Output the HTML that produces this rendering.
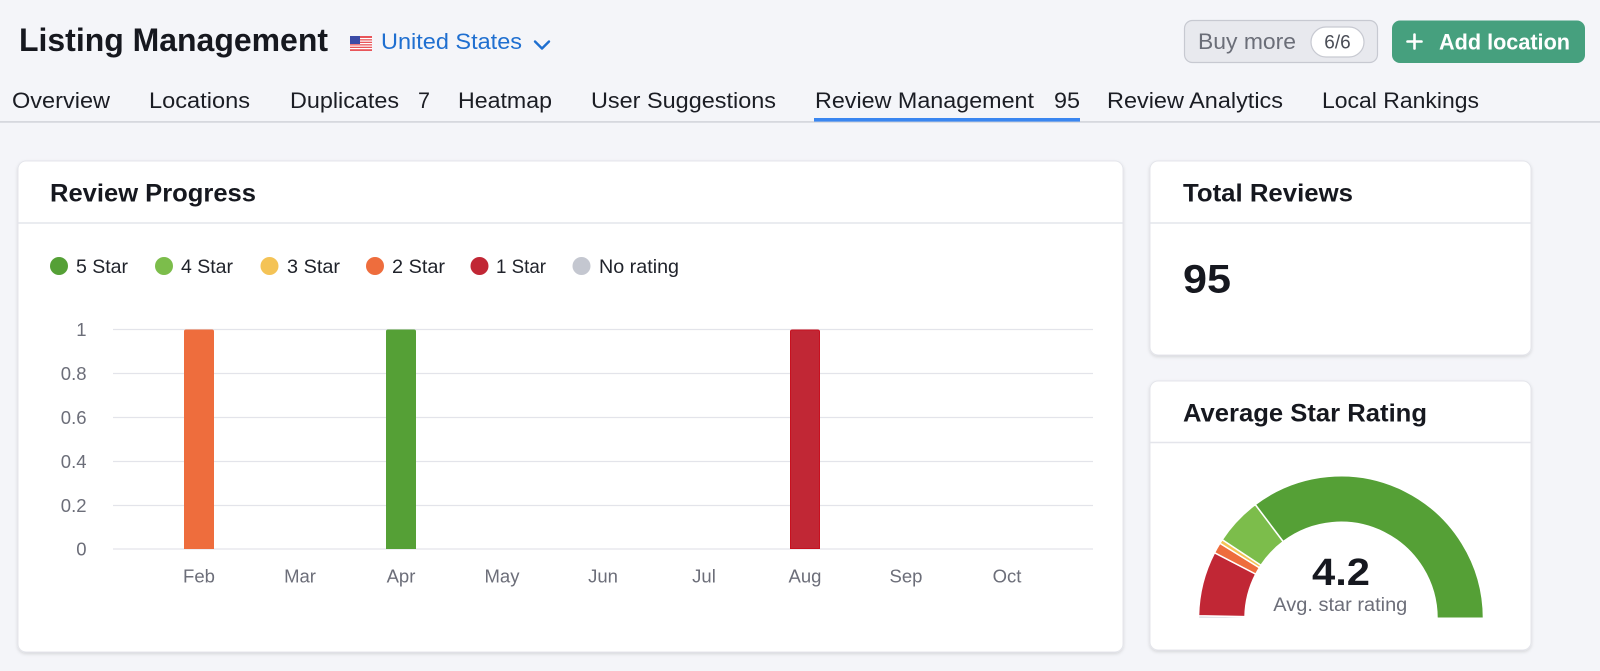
<!DOCTYPE html>
<html><head><meta charset="utf-8"><style>
html,body{margin:0;padding:0;background:#f4f5f9;}
svg{display:block;}
text{font-family:"Liberation Sans",Arial,sans-serif;}
</style></head><body>
<svg width="1600" height="671" viewBox="0 0 1600 671" xmlns="http://www.w3.org/2000/svg">
<defs>
<filter id="sh" x="-5%" y="-5%" width="110%" height="115%">
<feDropShadow dx="0" dy="1.5" stdDeviation="1.5" flood-color="#000" flood-opacity="0.13"/>
</filter>
</defs>
<rect x="0" y="0" width="1600" height="671" fill="#f4f5f9"/>

<!-- Header -->
<text x="19" y="51" font-size="32" font-weight="bold" fill="#16181f" textLength="309" lengthAdjust="spacingAndGlyphs">Listing Management</text>
<!-- flag -->
<g>
<rect x="350" y="36" width="22" height="15" fill="#e8555a"/>
<rect x="350" y="38" width="22" height="1.2" fill="#fff"/>
<rect x="350" y="40.5" width="22" height="1.2" fill="#fff"/>
<rect x="350" y="43" width="22" height="1.2" fill="#fff"/>
<rect x="350" y="45.5" width="22" height="1.2" fill="#fff"/>
<rect x="350" y="48" width="22" height="1.2" fill="#fff"/>
<rect x="350" y="36" width="10" height="8" fill="#3b4ba6"/>
</g>
<text x="381" y="49" font-size="22" fill="#1f6fd0" textLength="141" lengthAdjust="spacingAndGlyphs">United States</text>
<polyline points="535,41.5 542,48.5 549,41.5" fill="none" stroke="#1f6fd0" stroke-width="2.4" stroke-linecap="round" stroke-linejoin="round"/>

<!-- Buttons -->
<rect x="1184.5" y="20.5" width="193" height="42" rx="8" fill="#e8e9ee" stroke="#c7c9d1" stroke-width="1.2"/>
<text x="1198" y="49" font-size="22" fill="#6b6e78" textLength="98" lengthAdjust="spacingAndGlyphs">Buy more</text>
<rect x="1311" y="27" width="53" height="30" rx="15" fill="#fff" stroke="#c7c9d1" stroke-width="1.2"/>
<text x="1337.5" y="48.5" font-size="19" fill="#4a4d56" text-anchor="middle">6/6</text>
<rect x="1392" y="20.5" width="193" height="42.5" rx="8" fill="#46a07e"/>
<line x1="1414.5" y1="34.5" x2="1414.5" y2="48.5" stroke="#fff" stroke-width="2.6" stroke-linecap="round"/>
<line x1="1407.5" y1="41.5" x2="1421.5" y2="41.5" stroke="#fff" stroke-width="2.6" stroke-linecap="round"/>
<text x="1439" y="49.5" font-size="22" font-weight="bold" fill="#fff" textLength="131" lengthAdjust="spacingAndGlyphs">Add location</text>

<!-- Tabs -->
<g font-size="22" fill="#1b1d24">
<text x="12" y="108" textLength="98" lengthAdjust="spacingAndGlyphs">Overview</text>
<text x="149" y="108" textLength="101" lengthAdjust="spacingAndGlyphs">Locations</text>
<text x="290" y="108" textLength="109" lengthAdjust="spacingAndGlyphs">Duplicates</text>
<text x="418" y="108" textLength="12" lengthAdjust="spacingAndGlyphs">7</text>
<text x="458" y="108" textLength="94" lengthAdjust="spacingAndGlyphs">Heatmap</text>
<text x="591" y="108" textLength="185" lengthAdjust="spacingAndGlyphs">User Suggestions</text>
<text x="815" y="108" textLength="219" lengthAdjust="spacingAndGlyphs">Review Management</text>
<text x="1054" y="108" textLength="26" lengthAdjust="spacingAndGlyphs">95</text>
<text x="1107" y="108" textLength="176" lengthAdjust="spacingAndGlyphs">Review Analytics</text>
<text x="1322" y="108" textLength="157" lengthAdjust="spacingAndGlyphs">Local Rankings</text>
</g>
<rect x="0" y="121" width="1600" height="1.8" fill="#d6d8de"/>
<rect x="814" y="118" width="266" height="3.6" fill="#3a86f0"/>

<!-- Card 1: Review Progress -->
<rect x="18" y="161" width="1105" height="491" rx="8" fill="#fff" stroke="#e4e5eb" stroke-width="1" filter="url(#sh)"/>
<line x1="18.5" y1="223" x2="1122.5" y2="223" stroke="#e4e5eb" stroke-width="1.5"/>
<text x="50" y="201.5" font-size="25" font-weight="bold" fill="#16181f" textLength="206" lengthAdjust="spacingAndGlyphs">Review Progress</text>

<!-- Legend -->
<g font-size="19.5" fill="#20232b">
<circle cx="59" cy="266" r="9" fill="#55a036"/>
<text x="76" y="273" textLength="52" lengthAdjust="spacingAndGlyphs">5 Star</text>
<circle cx="164" cy="266" r="9" fill="#7cbd4b"/>
<text x="181" y="273" textLength="52" lengthAdjust="spacingAndGlyphs">4 Star</text>
<circle cx="269.5" cy="266" r="9" fill="#f4c356"/>
<text x="287" y="273" textLength="53" lengthAdjust="spacingAndGlyphs">3 Star</text>
<circle cx="375" cy="266" r="9" fill="#ee6d3d"/>
<text x="392" y="273" textLength="53" lengthAdjust="spacingAndGlyphs">2 Star</text>
<circle cx="479.5" cy="266" r="9" fill="#c12735"/>
<text x="496" y="273" textLength="50" lengthAdjust="spacingAndGlyphs">1 Star</text>
<circle cx="581.5" cy="266" r="9" fill="#c4c7d0"/>
<text x="599" y="273" textLength="80" lengthAdjust="spacingAndGlyphs">No rating</text>
</g>

<!-- Grid -->
<g stroke="#e3e4ea" stroke-width="1.2">
<line x1="113" y1="329.5" x2="1093" y2="329.5"/>
<line x1="113" y1="373.5" x2="1093" y2="373.5"/>
<line x1="113" y1="417.5" x2="1093" y2="417.5"/>
<line x1="113" y1="461.5" x2="1093" y2="461.5"/>
<line x1="113" y1="505.5" x2="1093" y2="505.5"/>
<line x1="113" y1="549" x2="1093" y2="549"/>
</g>
<g font-size="18.5" fill="#6c6e79" text-anchor="end">
<text x="86.5" y="336">1</text>
<text x="86.5" y="380">0.8</text>
<text x="86.5" y="424">0.6</text>
<text x="86.5" y="468">0.4</text>
<text x="86.5" y="512">0.2</text>
<text x="86.5" y="555.5">0</text>
</g>

<!-- Bars -->
<path d="M184 549 V331.5 Q184 329.5 186 329.5 H212 Q214 329.5 214 331.5 V549 Z" fill="#ee6d3d"/>
<path d="M386 549 V331.5 Q386 329.5 388 329.5 H414 Q416 329.5 416 331.5 V549 Z" fill="#55a036"/>
<path d="M790.5 548.5 V331.5 Q790.5 330 792.5 330 H817.5 Q819.5 330 819.5 331.5 V548.5 Z" fill="#c12735" stroke="#c8101f" stroke-width="1"/>

<!-- X labels -->
<g font-size="18.5" fill="#6c6e79" text-anchor="middle">
<text x="199" y="582.5">Feb</text>
<text x="300" y="582.5">Mar</text>
<text x="401" y="582.5">Apr</text>
<text x="502" y="582.5">May</text>
<text x="603" y="582.5">Jun</text>
<text x="704" y="582.5">Jul</text>
<text x="805" y="582.5">Aug</text>
<text x="906" y="582.5">Sep</text>
<text x="1007" y="582.5">Oct</text>
</g>

<!-- Card 2: Total Reviews -->
<rect x="1150" y="161" width="381" height="194" rx="8" fill="#fff" stroke="#e4e5eb" stroke-width="1" filter="url(#sh)"/>
<line x1="1150.5" y1="223" x2="1530.5" y2="223" stroke="#e4e5eb" stroke-width="1.5"/>
<text x="1183" y="201.5" font-size="25" font-weight="bold" fill="#16181f" textLength="170" lengthAdjust="spacingAndGlyphs">Total Reviews</text>
<text x="1183" y="292.5" font-size="40" font-weight="bold" fill="#16181f" textLength="48" lengthAdjust="spacingAndGlyphs">95</text>

<!-- Card 3: Average Star Rating -->
<rect x="1150" y="381" width="381" height="269" rx="8" fill="#fff" stroke="#e4e5eb" stroke-width="1" filter="url(#sh)"/>
<line x1="1150.5" y1="442.5" x2="1530.5" y2="442.5" stroke="#e4e5eb" stroke-width="1.5"/>
<text x="1183" y="421.5" font-size="25" font-weight="bold" fill="#16181f" textLength="244" lengthAdjust="spacingAndGlyphs">Average Star Rating</text>

<!-- Gauge -->
<g stroke="#fff" stroke-width="1.5" stroke-linejoin="round">
<path d="M1198.5 618.3 A142.5 142.5 0 0 1 1198.52 615.81 L1245.01 616.62 A96 96 0 0 0 1245 618.3 Z" fill="#c4c7d0"/>
<path d="M1198.52 615.81 A142.5 142.5 0 0 1 1214.49 552.72 L1255.77 574.12 A96 96 0 0 0 1245.01 616.62 Z" fill="#c12735"/>
<path d="M1214.49 552.72 A142.5 142.5 0 0 1 1219.89 543.21 L1259.41 567.71 A96 96 0 0 0 1255.77 574.12 Z" fill="#ee6d3d"/>
<path d="M1219.89 543.21 A142.5 142.5 0 0 1 1222.17 539.65 L1260.95 565.31 A96 96 0 0 0 1259.41 567.71 Z" fill="#f4c356"/>
<path d="M1222.17 539.65 A142.5 142.5 0 0 1 1255.24 504.49 L1283.23 541.63 A96 96 0 0 0 1260.95 565.31 Z" fill="#7cbd4b"/>
<path d="M1255.24 504.49 A142.5 142.5 0 0 1 1483.5 618.3 L1437 618.3 A96 96 0 0 0 1283.23 541.63 Z" fill="#55a036"/>
</g>
<text x="1341" y="585" font-size="38" font-weight="bold" fill="#16181f" text-anchor="middle" textLength="58" lengthAdjust="spacingAndGlyphs">4.2</text>
<text x="1340.3" y="611" font-size="19" fill="#6c6e79" text-anchor="middle" textLength="134" lengthAdjust="spacingAndGlyphs">Avg. star rating</text>
</svg>
</body></html>
